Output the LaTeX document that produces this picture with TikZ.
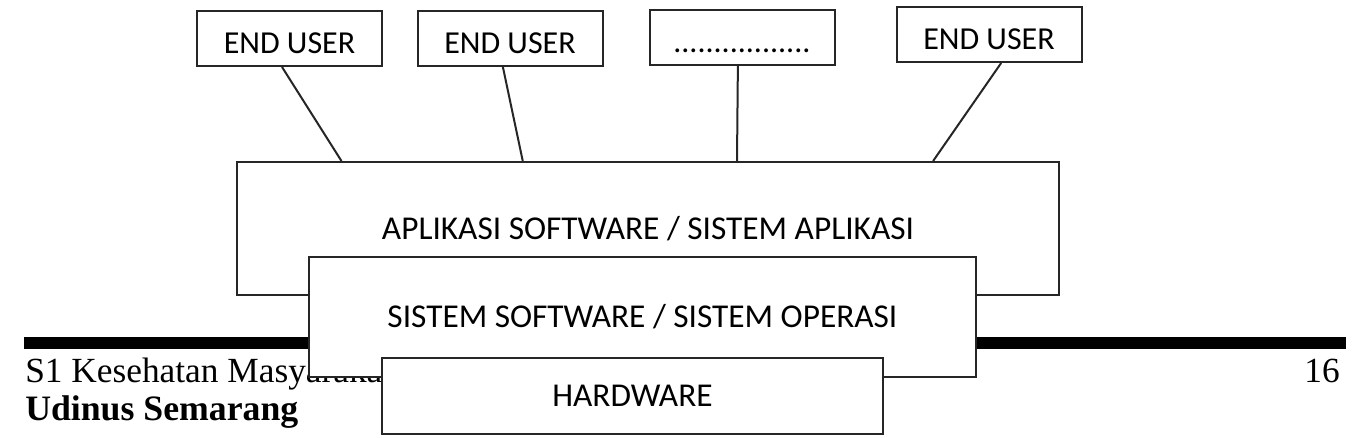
\documentclass[tikz,border=0pt]{standalone}
\usepackage{fontspec}
\setmainfont{Carlito}
\newfontfamily\tnr{Liberation Serif}
\usetikzlibrary{calc}
\tikzset{
  box/.style={draw=black!85, line width=1.5pt, fill=white, rectangle, inner sep=0pt},
  userbox/.style={box, minimum width=185*0.75pt, minimum height=55*0.75pt,
     font=\fontsize{24pt}{28pt}\selectfont, text height=24pt, text depth=2pt},
  layerbox/.style={box, font=\fontsize{25pt}{30pt}\selectfont},
  link/.style={draw=black!85, line width=1.5pt},
  foot/.style={inner sep=0pt, font=\tnr\fontsize{26.5pt}{30pt}\selectfont}
}
\begin{document}
\begin{tikzpicture}[x=0.75pt,y=-0.75pt]
\useasboundingbox (0,0) rectangle (1353,437);
% header rule
\fill[black] (24,337) rectangle (1346,349);
% footer texts
\node[foot, anchor=base west] (ft1) at (25,382) {S1 Kesehatan Masyarakat};
\node[foot, anchor=base west, font=\tnr\bfseries\fontsize{26.8pt}{30pt}\selectfont] (ft2) at (25,420) {Udinus Semarang};
\node[foot, anchor=base east] (pg) at (1340,382) {16};
% layers
\node[layerbox, minimum width=822*0.75pt, minimum height=133*0.75pt] (apl) at (648,228.5) {APLIKASI SOFTWARE / SISTEM APLIKASI};
\node[layerbox, minimum width=667*0.75pt, minimum height=120*0.75pt] (sys) at (642.5,317) {SISTEM SOFTWARE / SISTEM OPERASI};
\node[layerbox, minimum width=501*0.75pt, minimum height=76*0.75pt] (hw) at (632.5,396) {HARDWARE};
% users
\node[userbox] (u1) at (289.5,38.5) {END USER};
\node[userbox] (u2) at (510,38.5) {END USER};
\node[userbox] (u3) at (742,37.5) {.................};
\node[userbox] (u4) at (989,34.5) {END USER};
% links
\draw[link] ($(u1.south west)!0.46!(u1.south east)$) -- ($(apl.north west)!0.128!(apl.north east)$);
\draw[link] ($(u2.south west)!0.462!(u2.south east)$) -- ($(apl.north west)!0.348!(apl.north east)$);
\draw[link] ($(u3.south west)!0.478!(u3.south east)$) -- ($(apl.north west)!0.608!(apl.north east)$);
\draw[link] ($(u4.south west)!0.565!(u4.south east)$) -- ($(apl.north west)!0.846!(apl.north east)$);
\end{tikzpicture}
\end{document}
